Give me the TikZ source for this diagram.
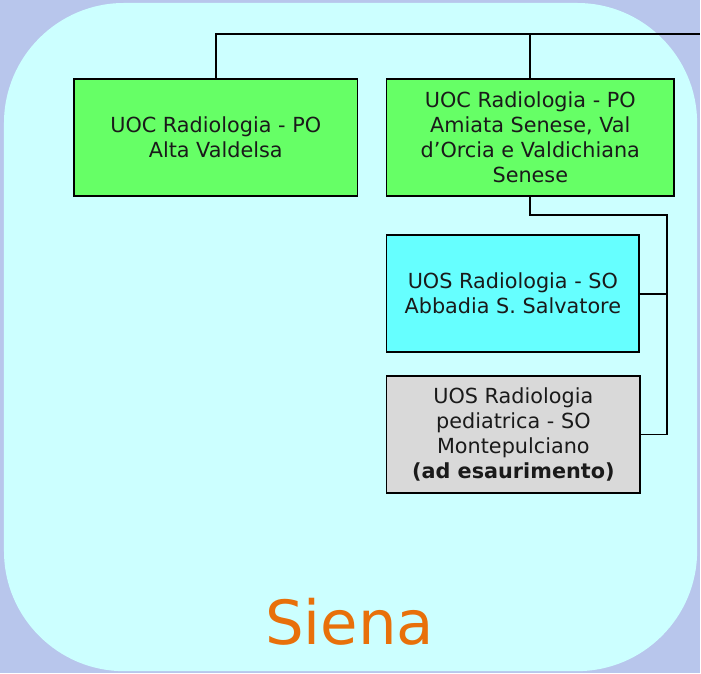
\documentclass[tikz,border=0pt]{standalone}
\usepackage{fontspec}
\setmainfont{DejaVu Sans}
\definecolor{sfondo}{HTML}{B8C6EC}
\definecolor{pannello}{HTML}{CCFFFF}
\definecolor{verde}{HTML}{66FF66}
\definecolor{ciano}{HTML}{66FFFF}
\definecolor{grigio}{HTML}{D9D9D9}
\definecolor{arancio}{HTML}{E8700A}
\definecolor{testo}{HTML}{1A1A1A}
\begin{document}
\begin{tikzpicture}[x=1pt,y=-1pt,line width=1.8pt,
    unita/.style={draw=black, text=testo, align=center, inner sep=0pt,
        minimum height=117pt, font=\fontsize{20.8}{25}\selectfont}]
    % Sfondo e pannello
    \fill[sfondo] (0,0) rectangle (701,674);
    \fill[pannello] (124,3) -- (578,3) .. controls (644,3) and (698,57) .. (698,123)
        -- (698,552) .. controls (698,618) and (644,672) .. (578,672)
        -- (124,672) .. controls (58,672) and (4,618) .. (4,552)
        -- (4,123) .. controls (4,57) and (58,3) .. cycle;

    % Unita operative complesse
    \node[unita, fill=verde, minimum width=284pt] (uoc1) at (216,137.5)
        {UOC Radiologia - PO\\Alta Valdelsa};
    \node[unita, fill=verde, minimum width=288pt] (uoc2) at (531,137.5)
        {UOC Radiologia - PO\\Amiata Senese, Val\\d'Orcia e Valdichiana\\Senese};

    % Unita operative semplici
    \node[unita, fill=ciano, minimum width=253pt] (uos1) at (513.5,294)
        {UOS Radiologia - SO\\Abbadia S. Salvatore};
    \node[unita, fill=grigio, minimum width=254pt] (uos2) at (514,435)
        {UOS Radiologia\\pediatrica - SO\\Montepulciano\\\textbf{(ad esaurimento)}};

    % Collegamenti
    \coordinate (linea) at (701,34);
    \coordinate (dorsale) at (668,215);
    \draw (uoc1.north) |- (linea);
    \draw (uoc2.north) -- (uoc2.north |- linea);
    \draw (uoc2.south) |- (dorsale) -- (dorsale |- uos2.east) -- (uos2.east);
    \draw (uos1.east) -- (uos1.east -| dorsale);

    \node[text=arancio, font=\fontsize{61}{61}\selectfont] (sede) at (350,623) {Siena};
\end{tikzpicture}
\end{document}
